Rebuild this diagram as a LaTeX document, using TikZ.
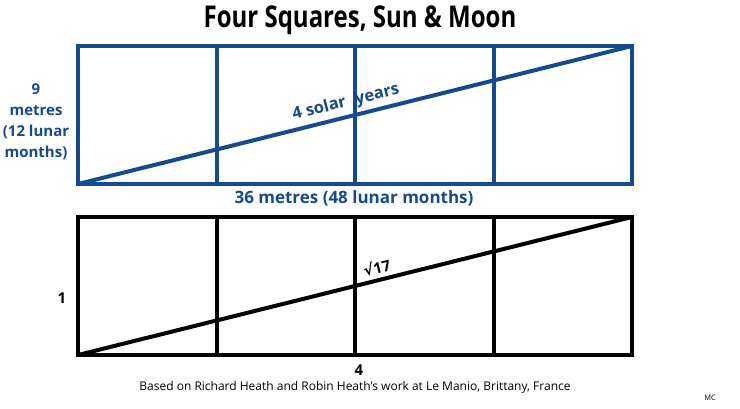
\documentclass[tikz,border=0pt]{standalone}
\usepackage{fontspec}
\setmainfont{Open Sans}
\newfontfamily\titlefont[FakeStretch=0.8]{Open Sans}
\newfontfamily\rootfont{DejaVu Sans}
\usetikzlibrary{positioning}
\definecolor{sunblue}{RGB}{22,74,143}

\begin{document}
\begin{tikzpicture}[x=1pt,y=-1pt,line join=miter]
  \tikzstyle{frame}=[line width=4pt]
  \tikzstyle{diag}=[line width=4pt,line cap=round]
  \tikzstyle{lbl}=[font=\bfseries\fontsize{15}{21}\selectfont,align=center,inner sep=1pt]

  \useasboundingbox (0,0) rectangle (740,409);

  \node[font=\titlefont\bfseries\fontsize{30}{32}\selectfont] (title) at (360,20) {Four Squares, Sun \& Moon};

  % top: the sun and moon rectangle
  \coordinate (sBL) at (78,184);
  \coordinate (sTR) at (632,46);
  \coordinate (s1b) at (217,184);
  \coordinate (s1t) at (217,46);
  \coordinate (s2b) at (355,184);
  \coordinate (s2t) at (355,46);
  \coordinate (s3b) at (494,184);
  \coordinate (s3t) at (494,46);

  \draw[frame,sunblue] (sBL) rectangle (sTR);
  \draw[frame,sunblue] (s1b) -- (s1t);
  \draw[frame,sunblue] (s2b) -- (s2t);
  \draw[frame,sunblue] (s3b) -- (s3t);
  \draw[diag,sunblue] (sBL) -- node[pos=0.49,sloped,above=3pt,lbl,text=sunblue,font=\bfseries\fontsize{16.5}{20}\selectfont] (solar) {4 solar\hspace{10pt}years} (sTR);

  \node[lbl,text=sunblue] (height) at (36,122) {9\\metres\\(12 lunar\\months)};
  \node[lbl,text=sunblue,font=\bfseries\fontsize{17}{20}\selectfont] (length) at (354,198) {36 metres (48 lunar months)};

  % bottom: the unit rectangle
  \coordinate (uBL) at (78,355);
  \coordinate (uTR) at (632,217);
  \coordinate (u1b) at (217,355);
  \coordinate (u1t) at (217,217);
  \coordinate (u2b) at (355,355);
  \coordinate (u2t) at (355,217);
  \coordinate (u3b) at (494,355);
  \coordinate (u3t) at (494,217);

  \draw[frame] (uBL) rectangle (uTR);
  \draw[frame] (u1b) -- (u1t);
  \draw[frame] (u2b) -- (u2t);
  \draw[frame] (u3b) -- (u3t);
  \draw[diag] (uBL) -- node[pos=0.545,sloped,above=3pt,lbl] (root) {{\rootfont √}17} (uTR);

  \node[lbl] (one) at (62,298) {1};
  \node[lbl] (four) at (359,370) {4};

  \node[font=\fontsize{12}{14}\selectfont] (source) at (355,387) {Based on Richard Heath and Robin Heath's work at Le Manio, Brittany, France};
  \node[font=\fontsize{7.5}{9}\selectfont] (mc) at (710,398) {MC};
\end{tikzpicture}
\end{document}
